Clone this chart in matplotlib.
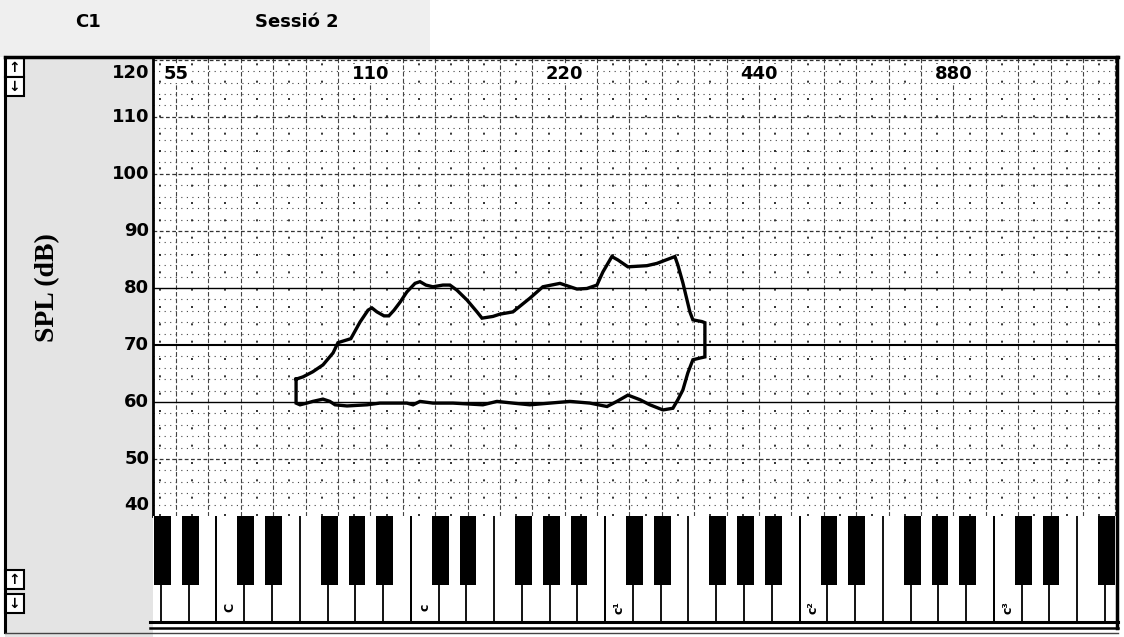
import numpy as np
import matplotlib
matplotlib.use("Agg")
import matplotlib.pyplot as plt
from matplotlib.patches import Rectangle
from matplotlib.lines import Line2D
import matplotlib.transforms as mtransforms

# ---- data: voice range profile (F0 in Hz, SPL in dB) ----
max_f0 = [84.4, 86.5, 89.6, 92.9, 96.3, 98.0, 102.6, 106.0, 109.1, 110.6, 112.6,
          115.5, 117.5, 119.7, 122.3, 125.3, 129.0, 131.3, 134.1, 137.5, 142.5,
          146.1, 149.8, 155.2, 160.9, 163.8, 170.3, 174.6, 182.9, 194.3, 203.5,
          216.3, 229.8, 238.1, 246.8, 252.1, 260.3, 266.0, 275.6, 294.9, 305.6,
          325.9, 329.4, 335.3, 343.8, 347.5, 358.8, 362.7, 362.7, 356.3, 347.5,
          341.3, 335.3, 329.4, 325.9]
max_spl = [64.0, 64.4, 65.3, 66.5, 68.6, 70.4, 71.1, 74.0, 76.1, 76.5, 75.8,
           75.1, 75.1, 76.1, 77.5, 79.3, 80.8, 81.1, 80.5, 80.2, 80.5,
           80.5, 79.6, 77.9, 75.8, 74.7, 75.0, 75.4, 75.8, 78.2, 80.2,
           80.8, 79.8, 79.9, 80.5, 82.8, 85.5, 84.9, 83.7, 83.9, 84.3,
           85.5, 84.0, 80.9, 75.8, 74.4, 74.1, 73.9, 67.9, 67.7, 67.4,
           65.1, 62.1, 60.4, 59.5]
min_f0 = [84.4, 85.6, 87.7, 89.6, 92.9, 95.2, 97.0, 101.2, 108.7, 113.8,
          125.3, 128.1, 131.3, 137.5, 147.7, 164.3, 172.8, 182.9, 194.3, 208.7,
          224.1, 240.7, 255.8, 265.0, 275.6, 287.7, 298.1, 312.3, 323.6, 325.9]
min_spl = [59.8, 59.5, 59.8, 60.1, 60.5, 60.1, 59.5, 59.3, 59.5, 59.8,
           59.8, 59.5, 60.1, 59.8, 59.8, 59.5, 60.1, 59.8, 59.5, 59.8,
           60.1, 59.8, 59.2, 60.1, 61.2, 60.4, 59.5, 58.6, 58.9, 59.5]

freq_labels = [55, 110, 220, 440, 880]
spl_ticks = [120, 110, 100, 90, 80, 70, 60, 50, 40]
octave_names = ["C", "c", "c\u00b9", "c\u00b2", "c\u00b3"]
octave_midi = [36, 48, 60, 72, 84]

W, H = 1124, 637
fig = plt.figure(figsize=(W / 100, H / 100), dpi=100)
fig.patch.set_facecolor("white")


def fx(x):
    return x / W


def fy(y):
    return 1 - y / H


def hz(m):
    return 440.0 * 2 ** ((m - 69) / 12.0)


# background panels
fig.add_artist(Rectangle((0, fy(57)), fx(430), 1 - fy(57), transform=fig.transFigure,
                         facecolor="#efefef", edgecolor="none", zorder=0))
fig.add_artist(Rectangle((fx(5), fy(637)), fx(148), fy(57) - fy(637),
                         transform=fig.transFigure, facecolor="#e4e4e4",
                         edgecolor="none", zorder=0))

# ---- main plot ----
x0, x1, ytop, ybot = 153, 1117, 57, 516
ax = fig.add_axes([fx(x0), fy(ybot), fx(x1 - x0), fy(ytop) - fy(ybot)])
ax.set_xscale("log", base=2)
m_lo, m_hi = 31.58, 91.1
ax.set_xlim(hz(m_lo), hz(m_hi))
ax.set_ylim(40, 120.5)
ax.set_xticks([])
ax.set_yticks([])
ax.minorticks_off()
ax.xaxis.set_minor_locator(matplotlib.ticker.NullLocator())
for s in ["top", "bottom", "right"]:
    ax.spines[s].set_visible(False)
ax.spines["left"].set_linewidth(2)

# horizontal grid
for v in np.arange(42, 121, 2):
    if v % 10 == 0:
        continue
    ax.axhline(v, color="#444444", lw=0.8, ls=(0, (1, 4)), zorder=1)
for v in range(50, 121, 10):
    if v in (60, 70, 80):
        ax.axhline(v, color="black", lw=1.5 if v == 70 else 1.0, zorder=2)
    else:
        ax.axhline(v, color="#333333", lw=0.9, ls=(0, (3, 2)), zorder=2)

# vertical grid, one line per semitone
for m in range(32, 92):
    if (m - 33) % 2 == 0:
        ax.axvline(hz(m), color="#444444", lw=0.8, ls=(0, (4, 2)), zorder=1)
    else:
        ax.axvline(hz(m), color="#111111", lw=1.2, ls=(0, (1.2, 9.2)), zorder=1)

# contour outline
outline_f = max_f0 + min_f0[::-1] + [max_f0[0]]
outline_s = max_spl + min_spl[::-1] + [max_spl[0]]
ax.plot(outline_f, outline_s, color="black", lw=2.4, solid_joinstyle="miter", zorder=5)

# frequency labels
for f in freq_labels:
    ax.text(f, 117.6, str(f), ha="center", va="center", fontsize=13,
            fontweight="bold", zorder=6,
            bbox=dict(boxstyle="square,pad=0.05", facecolor="white", edgecolor="none"))

# SPL tick labels
trans = mtransforms.blended_transform_factory(ax.transAxes, ax.transData)
for v in spl_ticks:
    yy = v
    if v == 120:
        yy = 117.7
    elif v == 40:
        yy = 41.9
    ax.text(-0.004, yy, str(v), transform=trans, ha="right", va="center",
            fontsize=13, fontweight="bold")

fig.text(fx(48), fy(288), "SPL (dB)", rotation=90, ha="center", va="center",
         fontsize=20, fontweight="bold", family="Liberation Serif")

# ---- keyboard ----
kb_top, kb_bot = 516, 622
kax = fig.add_axes([fx(x0), fy(kb_bot), fx(x1 - x0), fy(kb_top) - fy(kb_bot)])
kax.set_xscale("log", base=2)
kax.set_xlim(hz(m_lo), hz(m_hi))
kax.set_ylim(0, 1)
kax.set_xticks([])
kax.set_yticks([])
kax.minorticks_off()
for s in kax.spines.values():
    s.set_visible(False)

ww = 12 / 7.0
black_after = {0, 1, 3, 4, 5}  # white-key indices followed by a black key
for octave in range(1, 8):
    c_edge = 12 * (octave + 1) - 0.5
    for k in range(8):
        edge = c_edge + k * ww
        if m_lo < edge < m_hi:
            kax.plot([hz(edge)] * 2, [0, 1], color="black", lw=1.3, zorder=2)
    for k in black_after:
        centre = c_edge + (k + 1) * ww + 0.1
        left, right = centre - 0.52, centre + 0.52
        if right > m_lo and left < m_hi:
            kax.add_patch(Rectangle((hz(left), 0.35), hz(right) - hz(left), 0.65,
                                    facecolor="black", edgecolor="none", zorder=3))

for name, m in zip(octave_names, octave_midi):
    centre = (m - 0.5) + ww / 2
    kax.text(hz(centre), 0.14, name, rotation=90, ha="center", va="center",
             fontsize=9, fontweight="bold")

# ---- frame and controls ----
fig.add_artist(Line2D([fx(5), fx(1118)], [fy(57), fy(57)], transform=fig.transFigure,
                      color="black", lw=2.5))
fig.add_artist(Line2D([fx(1117), fx(1117)], [fy(57), fy(628)], transform=fig.transFigure,
                      color="black", lw=2.5))
fig.add_artist(Line2D([fx(150), fx(1118)], [fy(622), fy(622)], transform=fig.transFigure,
                      color="black", lw=2.2))
fig.add_artist(Line2D([fx(150), fx(1118)], [fy(628), fy(628)], transform=fig.transFigure,
                      color="black", lw=1.8))
fig.add_artist(Line2D([fx(5), fx(5)], [fy(57), fy(632)], transform=fig.transFigure,
                      color="black", lw=2.2))
fig.add_artist(Line2D([fx(5), fx(1118)], [fy(633), fy(633)], transform=fig.transFigure,
                      color="#444444", lw=1.0))

for (yb, sym) in [(58, "\u2191"), (77, "\u2193"), (570, "\u2191"), (594, "\u2193")]:
    fig.add_artist(Rectangle((fx(5), fy(yb + 19)), fx(19), fy(yb) - fy(yb + 19),
                             transform=fig.transFigure, facecolor="white",
                             edgecolor="black", lw=1.5))
    fig.text(fx(14.5), fy(yb + 9.5), sym, ha="center", va="center", fontsize=10,
             fontweight="bold")

fig.text(fx(88), fy(22), "C1", ha="center", va="center", fontsize=13, fontweight="bold")
fig.text(fx(297), fy(22), "Sessi\u00f3 2", ha="center", va="center", fontsize=13,
         fontweight="bold")

fig.savefig("out.png", dpi=100)
